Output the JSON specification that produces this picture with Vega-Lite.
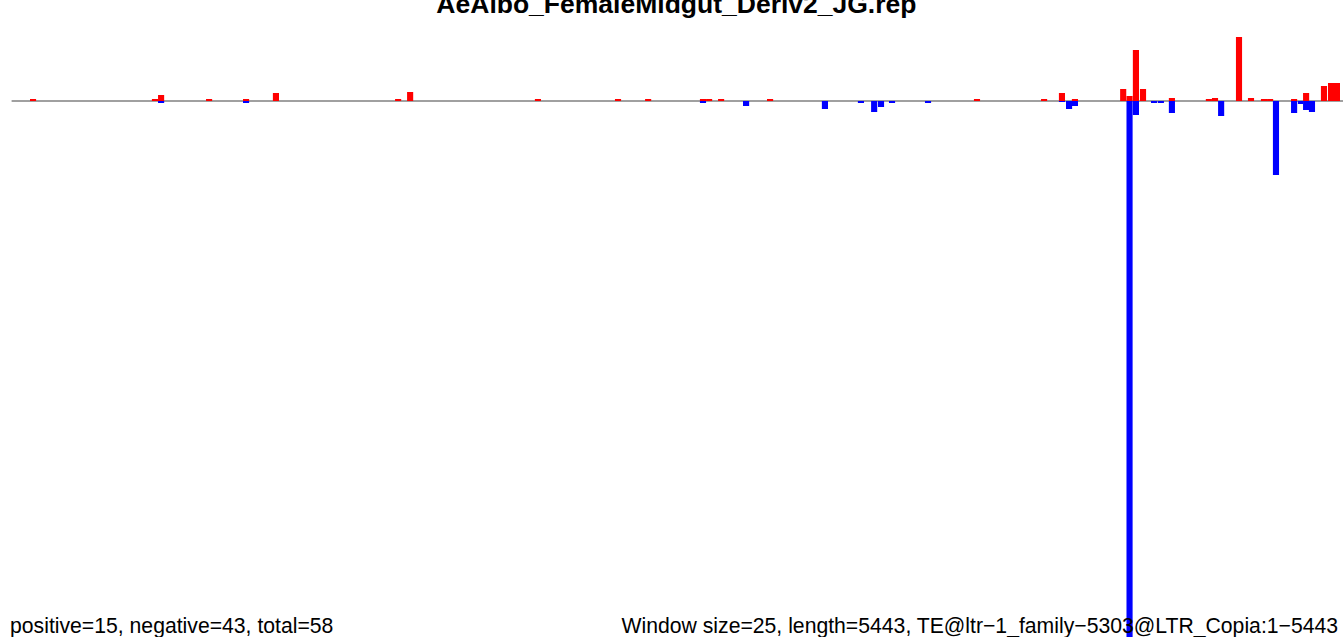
{
  "$schema": "https://vega.github.io/schema/vega-lite/v6.json",
  "width": 1343,
  "height": 637,
  "autosize": "none",
  "padding": 0,
  "background": "white",
  "config": {"view": {"stroke": null}},
  "datasets": {
    "one": [{}],
    "bars": [
      {"start": 75, "end": 100, "value": 2, "strand": "positive"},
      {"start": 573, "end": 598, "value": 2, "strand": "positive"},
      {"start": 598, "end": 623, "value": 6, "strand": "positive"},
      {"start": 794, "end": 819, "value": 2, "strand": "positive"},
      {"start": 945, "end": 970, "value": 2, "strand": "positive"},
      {"start": 1067, "end": 1092, "value": 8, "strand": "positive"},
      {"start": 1566, "end": 1591, "value": 2, "strand": "positive"},
      {"start": 1615, "end": 1640, "value": 9, "strand": "positive"},
      {"start": 2137, "end": 2162, "value": 2, "strand": "positive"},
      {"start": 2464, "end": 2489, "value": 2, "strand": "positive"},
      {"start": 2587, "end": 2612, "value": 2, "strand": "positive"},
      {"start": 2811, "end": 2836, "value": 2, "strand": "positive"},
      {"start": 2836, "end": 2861, "value": 2, "strand": "positive"},
      {"start": 2885, "end": 2910, "value": 2, "strand": "positive"},
      {"start": 3085, "end": 3110, "value": 2, "strand": "positive"},
      {"start": 3930, "end": 3955, "value": 2, "strand": "positive"},
      {"start": 4204, "end": 4229, "value": 2, "strand": "positive"},
      {"start": 4277, "end": 4302, "value": 8, "strand": "positive"},
      {"start": 4330, "end": 4355, "value": 2, "strand": "positive"},
      {"start": 4527, "end": 4552, "value": 12, "strand": "positive"},
      {"start": 4553, "end": 4578, "value": 5, "strand": "positive"},
      {"start": 4579, "end": 4604, "value": 51, "strand": "positive"},
      {"start": 4608, "end": 4633, "value": 12, "strand": "positive"},
      {"start": 4726, "end": 4751, "value": 3, "strand": "positive"},
      {"start": 4877, "end": 4902, "value": 2, "strand": "positive"},
      {"start": 4902, "end": 4927, "value": 3, "strand": "positive"},
      {"start": 5000, "end": 5025, "value": 64, "strand": "positive"},
      {"start": 5049, "end": 5074, "value": 3, "strand": "positive"},
      {"start": 5102, "end": 5127, "value": 2, "strand": "positive"},
      {"start": 5127, "end": 5152, "value": 2, "strand": "positive"},
      {"start": 5225, "end": 5250, "value": 2, "strand": "positive"},
      {"start": 5274, "end": 5299, "value": 8, "strand": "positive"},
      {"start": 5347, "end": 5372, "value": 15, "strand": "positive"},
      {"start": 5376, "end": 5401, "value": 18, "strand": "positive"},
      {"start": 5400, "end": 5425, "value": 18, "strand": "positive"},
      {"start": 598, "end": 623, "value": -2, "strand": "negative"},
      {"start": 945, "end": 970, "value": -2, "strand": "negative"},
      {"start": 2811, "end": 2836, "value": -2, "strand": "negative"},
      {"start": 2987, "end": 3012, "value": -5, "strand": "negative"},
      {"start": 3309, "end": 3334, "value": -8, "strand": "negative"},
      {"start": 3456, "end": 3481, "value": -2, "strand": "negative"},
      {"start": 3510, "end": 3535, "value": -11, "strand": "negative"},
      {"start": 3538, "end": 3563, "value": -6, "strand": "negative"},
      {"start": 3583, "end": 3608, "value": -2, "strand": "negative"},
      {"start": 3730, "end": 3755, "value": -2, "strand": "negative"},
      {"start": 4277, "end": 4302, "value": -1, "strand": "negative"},
      {"start": 4306, "end": 4331, "value": -8, "strand": "negative"},
      {"start": 4330, "end": 4355, "value": -5, "strand": "negative"},
      {"start": 4553, "end": 4578, "value": -560, "strand": "negative"},
      {"start": 4579, "end": 4604, "value": -14, "strand": "negative"},
      {"start": 4653, "end": 4678, "value": -2, "strand": "negative"},
      {"start": 4681, "end": 4706, "value": -2, "strand": "negative"},
      {"start": 4726, "end": 4751, "value": -12, "strand": "negative"},
      {"start": 4927, "end": 4952, "value": -15, "strand": "negative"},
      {"start": 5151, "end": 5176, "value": -74, "strand": "negative"},
      {"start": 5225, "end": 5250, "value": -12, "strand": "negative"},
      {"start": 5253, "end": 5274, "value": -3, "strand": "negative"},
      {"start": 5274, "end": 5299, "value": -9, "strand": "negative"},
      {"start": 5298, "end": 5323, "value": -11, "strand": "negative"}
    ]
  },
  "layer": [
    {
      "data": {"name": "one"},
      "mark": {"type": "rule", "color": "#A0A0A0", "strokeWidth": 2},
      "encoding": {
        "x": {"datum": 0, "type": "quantitative", "scale": {"domain": [-47.4, 5437.2], "nice": false, "zero": false}, "axis": null},
        "x2": {"datum": 5443},
        "y": {"datum": 0, "type": "quantitative", "scale": {"domain": [-536, 101], "nice": false, "zero": false}, "axis": null}
      }
    },
    {
      "data": {"name": "bars"},
      "mark": {"type": "rect", "clip": true},
      "encoding": {
        "x": {"field": "start", "type": "quantitative"},
        "x2": {"field": "end"},
        "y": {"field": "value", "type": "quantitative"},
        "y2": {"datum": 0},
        "color": {"field": "strand", "type": "nominal", "scale": {"domain": ["positive", "negative"], "range": ["#FF0000", "#0000FF"]}, "legend": null}
      }
    },
    {
      "data": {"name": "one"},
      "mark": {"type": "text", "text": "AeAlbo_FemaleMidgut_Deriv2_JG.rep", "font": "Liberation Sans", "fontWeight": "bold", "fontSize": 26.5, "align": "center", "baseline": "alphabetic", "color": "black"},
      "encoding": {"x": {"datum": 2715, "type": "quantitative"}, "y": {"datum": 88.5, "type": "quantitative"}}
    },
    {
      "data": {"name": "one"},
      "mark": {"type": "text", "text": "positive=15, negative=43, total=58", "font": "Liberation Sans", "fontSize": 21.2, "align": "left", "baseline": "alphabetic", "color": "black"},
      "encoding": {"x": {"datum": -6.5, "type": "quantitative"}, "y": {"datum": -532, "type": "quantitative"}}
    },
    {
      "data": {"name": "one"},
      "mark": {"type": "text", "text": "Window size=25, length=5443, TE@ltr−1_family−5303@LTR_Copia:1−5443", "font": "Liberation Sans", "fontSize": 21.2, "align": "right", "baseline": "alphabetic", "color": "black"},
      "encoding": {"x": {"datum": 5417, "type": "quantitative"}, "y": {"datum": -532, "type": "quantitative"}}
    }
  ]
}
